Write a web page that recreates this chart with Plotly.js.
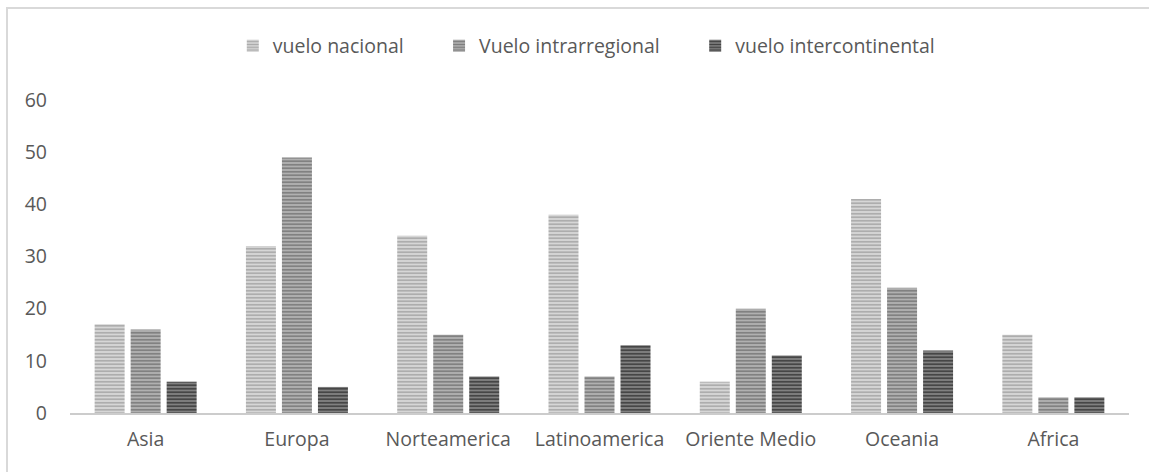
<!DOCTYPE html>
<html>
<head>
<meta charset="utf-8">
<script src="https://cdn.plot.ly/plotly-3.0.1.min.js"></script>
<style>
  html, body { margin: 0; padding: 0; background: #ffffff; }
  #wrap { position: relative; width: 1149px; height: 472px; overflow: hidden; }
  #frame { position: absolute; left: 6px; top: 7px; width: 1200px; height: 500px;
           border-left: 2px solid #d9d9d9; border-top: 2px solid #d9d9d9; }
  #chart { position: absolute; left: 0; top: 0; width: 1149px; height: 472px; }
</style>
</head>
<body>
<div id="wrap">
  <div id="frame"></div>
  <div id="chart"></div>
</div>
<script>
// Regions and flight counts per type of flight
const regiones = ['Asia', 'Europa', 'Norteamerica', 'Latinoamerica', 'Oriente Medio', 'Oceania', 'Africa'];
const vueloNacional = [17, 32, 34, 38, 6, 41, 15];
const vueloIntrarregional = [16, 49, 15, 7, 20, 24, 3];
const vueloIntercontinental = [6, 5, 7, 13, 11, 12, 3];
const yTicks = [0, 10, 20, 30, 40, 50, 60];

const FONT = 'Open Sans, sans-serif';
const TEXT = '#595959';
const SIZE = 19.5;
// extra room after a legend entry, so the entries sit further apart
const LEGEND_PAD = '\u00a0'.repeat(6);

function striped(name, values, bg, fg, pad) {
  return {
    type: 'bar',
    name: name + pad,
    x: regiones,
    y: values,
    marker: {
      color: bg,
      line: { width: 0 },
      pattern: { shape: '-', fgcolor: fg, bgcolor: bg, size: 3.5, solidity: 0.45, fillmode: 'replace' }
    },
    hoverinfo: 'x+y'
  };
}

const data = [
  striped('vuelo nacional', vueloNacional, '#d6d6d6', '#a9a9a9', LEGEND_PAD),
  striped('Vuelo intrarregional', vueloIntrarregional, '#b0b0b0', '#7c7c7c', LEGEND_PAD),
  striped('vuelo intercontinental', vueloIntercontinental, '#808080', '#3f3f3f', '')
];

const layout = {
  width: 1149,
  height: 472,
  margin: { l: 70, r: 20, t: 100, b: 58.5, pad: 0 },
  paper_bgcolor: 'rgba(0,0,0,0)',
  plot_bgcolor: 'rgba(0,0,0,0)',
  barmode: 'group',
  bargap: 0.286,
  bargroupgap: 0.167,
  font: { family: FONT, size: SIZE, color: TEXT },
  showlegend: true,
  legend: {
    orientation: 'h',
    x: 0.488, xanchor: 'center',
    y: 1.172, yanchor: 'middle',
    font: { family: FONT, size: SIZE, color: TEXT },
    traceorder: 'normal'
  },
  xaxis: {
    type: 'category',
    showline: true,
    linecolor: '#cccccc',
    linewidth: 2,
    showgrid: false,
    ticks: '',
    tickfont: { family: FONT, size: SIZE, color: TEXT },
    ticklabelstandoff: 8,
    fixedrange: true
  },
  yaxis: {
    range: [0, 60],
    tickvals: yTicks,
    showline: false,
    showgrid: false,
    zeroline: false,
    ticks: '',
    tickfont: { family: FONT, size: SIZE, color: TEXT },
    ticklabelstandoff: 22,
    fixedrange: true
  }
};

Plotly.newPlot('chart', data, layout, { displayModeBar: false, staticPlot: true });
</script>
</body>
</html>
